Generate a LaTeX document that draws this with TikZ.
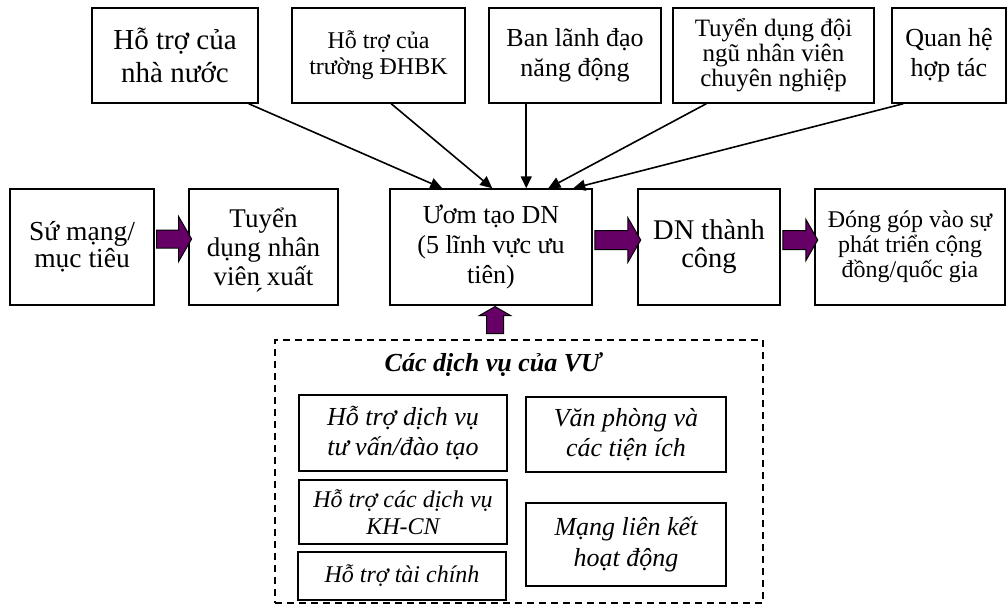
\documentclass[tikz,border=0pt]{standalone}
\usepackage{fontspec}
\setmainfont{Liberation Serif}
\usetikzlibrary{arrows.meta,shapes.arrows,calc}
\definecolor{plum}{HTML}{660066}

\begin{document}
\begin{tikzpicture}[x=1pt,y=-1pt,
  box/.style={draw, line width=1.5pt, inner sep=0pt, align=center},
  big/.style={font=\fontsize{26}{30}\selectfont},
  mid/.style={font=\fontsize{24}{26}\selectfont},
  itl/.style={font=\fontsize{26}{30}\selectfont\itshape},
  thin/.style={line width=1.6pt, -{Triangle[length=12pt,width=11pt]}},
  fat/.style={single arrow, draw=black, fill=plum, line width=1pt, inner xsep=0pt,
    single arrow head indent=0pt, single arrow tip angle=120},
]
\useasboundingbox (0,0) rectangle (1008,606);

% supporting factors along the top
\node[box, font=\fontsize{29}{33}\selectfont, minimum width=166pt, minimum height=95pt] (t1) at (175,55.5) {Hỗ trợ của\\nhà nước};
\node[box, mid, minimum width=173pt, minimum height=95pt] (t2) at (378.5,55.5) {Hỗ trợ của\\trường ĐHBK};
\node[box, big, minimum width=172pt, minimum height=95pt] (t3) at (575,55.5) {Ban lãnh đạo\\năng động};
\node[box, font=\fontsize{25}{25}\selectfont, minimum width=201pt, minimum height=95pt] (t4) at (773.5,55.5) {Tuyển dụng đội\\ngũ nhân viên\\chuyên nghiệp};
\node[box, big, minimum width=114pt, minimum height=95pt] (t5) at (949,55.5) {Quan hệ\\hợp tác};

% main chain
\node[box, font=\fontsize{27.5}{27}\selectfont, minimum width=144pt, minimum height=116pt] (a) at (82,247) {Sứ mạng/\\mục tiêu};
\node[box, font=\fontsize{27}{29}\selectfont, minimum width=149pt, minimum height=116pt] (b) at (263.5,247) {Tuyển\\dụng\hspace{7pt}nhân\\viên xuất};
\node[font=\fontsize{26}{28}\selectfont, inner sep=0pt] (acc) at (259,300) {\'{}};
\node[box, font=\fontsize{26}{30}\selectfont, minimum width=202pt, minimum height=116pt] (c) at (491,247) {Ươm tạo DN\\(5 lĩnh vực ưu\\tiên)};
\node[box, font=\fontsize{28.5}{28}\selectfont, minimum width=142pt, minimum height=116pt] (d) at (709,247) {DN thành\\công};
\node[box, font=\fontsize{24}{25}\selectfont, minimum width=190pt, minimum height=116pt] (e) at (910,247) {Đóng góp vào sự\\phát triển cộng\\đồng/quốc gia};

% broad arrows between the stages
\node[fat, inner ysep=8.5pt, minimum height=35pt, single arrow head extend=13.5pt] (ab) at ($(a.east)!0.5!(b.west)+(0,-8)$) {};
\node[fat, inner ysep=9pt, minimum height=46pt, single arrow head extend=13pt] (cd) at ($(c.east)!0.5!(d.west)+(0,-7)$) {};
\node[fat, inner ysep=9pt, minimum height=35pt, single arrow head extend=11pt] (de) at ($(d.east)!0.5!(e.west)+(0,-7)$) {};

% thin arrows into the incubation box
\draw[thin] ([xshift=-10pt]t1.south east) -- ([xshift=53pt]c.north west);
\draw[thin] ([xshift=100pt]t2.south west) -- ([xshift=103pt]c.north west);
\draw[thin] ([xshift=38pt]t3.south west) -- ([xshift=137pt]c.north west);
\draw[thin] ([xshift=34pt]t4.south west) -- ([xshift=159pt]c.north west);
\draw[thin] ([xshift=12pt]t5.south west) -- ([xshift=184pt]c.north west);

% services block
\node[draw, dashed, dash pattern=on 7pt off 5pt, line width=1.5pt, inner sep=0pt, minimum width=488pt, minimum height=263pt] (svc) at (519,471.5) {};
\node[fat, shape border rotate=90, inner xsep=8pt, inner ysep=0pt, minimum height=27pt, single arrow head extend=7pt] (up) at ($(c.south)!0.5!(c.south |- svc.north)+(4,0)$) {};
\node[font=\fontsize{26}{30}\selectfont\bfseries\itshape, inner sep=0pt] (title) at (493,365) {Các dịch vụ của VƯ};

\node[box, itl, minimum width=208pt, minimum height=76pt] (l1) at (403,433) {Hỗ trợ dịch vụ\\tư vấn/đào tạo};
\node[box, font=\fontsize{24}{27}\selectfont\itshape, minimum width=208pt, minimum height=64pt] (l2) at (403,512) {Hỗ trợ các dịch vụ\\KH-CN};
\node[box, font=\fontsize{24}{28}\selectfont\itshape, minimum width=208pt, minimum height=48pt] (l3) at (402,576) {Hỗ trợ tài chính};
\node[box, itl, minimum width=200pt, minimum height=75pt] (r1) at (626,434.5) {Văn phòng và\\các tiện ích};
\node[box, font=\fontsize{26}{31}\selectfont\itshape, minimum width=200pt, minimum height=83pt] (r2) at (626,544.5) {Mạng liên kết\\hoạt động};
\end{tikzpicture}
\end{document}
